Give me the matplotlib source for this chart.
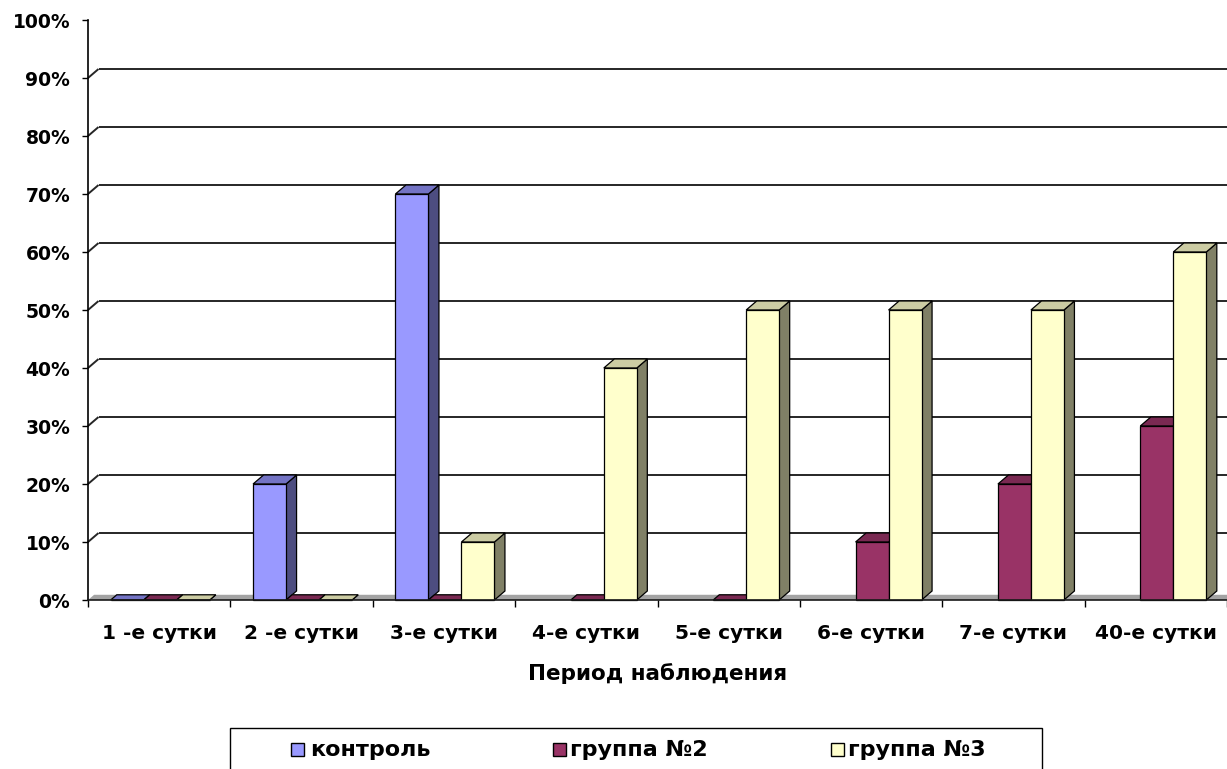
import numpy as np
import matplotlib
matplotlib.use("Agg")
import matplotlib.pyplot as plt
from matplotlib.patches import Polygon, Rectangle
from matplotlib.ticker import FixedLocator, FixedFormatter, NullFormatter

# ---- data -------------------------------------------------------------
categories = ["1 -е сутки", "2 -е сутки", "3-е сутки", "4-е сутки",
              "5-е сутки", "6-е сутки", "7-е сутки", "40-е сутки"]
control = [0, 20, 70, np.nan, np.nan, np.nan, np.nan, np.nan]
group2 = [0, 0, 0, 0, 0, 10, 20, 30]
group3 = [0, 0, 10, 40, 50, 50, 50, 60]
series_names = ["контроль", "группа №2", "группа №3"]
yticks = list(range(0, 101, 10))
ytick_labels = [f"{v}%" for v in yticks]
x_title = "Период наблюдения"

# face colours: (front, top, side)
palette = [
    ("#9999ff", "#7373c4", "#4d4d80"),
    ("#993366", "#7a2952", "#4d1a33"),
    ("#ffffcc", "#ccccA3", "#808066"),
]

# ---- figure / axes geometry (pixels) ---------------------------------
W, H, DPI = 1227, 769, 100
AX_L, AX_R, AX_T, AX_B = 88, 1227, 20, 600
DEPTH_PX = (10.5, 9.0)       # oblique depth of the 3-D box
FLOOR_SCALE = 0.58           # the floor is seen flatter than the box tops
BAR_PX = 33.0                # front width of one column

plt.rcParams["font.family"] = ["DejaVu Sans"]
plt.rcParams["font.weight"] = "bold"

fig = plt.figure(figsize=(W / DPI, H / DPI), dpi=DPI)
ax = fig.add_axes([AX_L / W, (H - AX_B) / H, (AX_R - AX_L) / W, (AX_B - AX_T) / H])
n = len(categories)
ax.set_xlim(0, n)
ax.set_ylim(0, 100)

px_x = (AX_R - AX_L) / n
px_y = (AX_B - AX_T) / 100.0
DX = DEPTH_PX[0] / px_x
DY = DEPTH_PX[1] / px_y
bw = BAR_PX / px_x

grid_kw = dict(color="#262626", lw=1.4, solid_capstyle="butt", clip_on=False, zorder=1)

# floor of the 3-D plot area
fdx, fdy = DX * FLOOR_SCALE, DY * FLOOR_SCALE
ax.add_patch(Polygon([(0, 0), (n, 0), (n + fdx, fdy), (fdx, fdy)], closed=True,
                     facecolor="#a3a3a3", edgecolor="none", zorder=0.5, clip_on=False))

# back-wall gridlines with the side-wall diagonals
for v in yticks[1:-1]:
    ax.plot([0, DX], [v, v + DY], **grid_kw)
    ax.plot([DX, n + DX], [v + DY, v + DY], **grid_kw)


def draw_box(x0, v, colors, z):
    front, top, side = colors
    x1 = x0 + bw
    dx, dy = (DX, DY) if v > 0 else (fdx, fdy)
    edge = dict(edgecolor="black", lw=0.9, joinstyle="miter", clip_on=False)
    ax.add_patch(Polygon([(x1, 0), (x1 + dx, dy), (x1 + dx, v + dy), (x1, v)],
                         closed=True, facecolor=side, zorder=z, **edge))
    ax.add_patch(Polygon([(x0, v), (x1, v), (x1 + dx, v + dy), (x0 + dx, v + dy)],
                         closed=True, facecolor=top, zorder=z + 0.01, **edge))
    ax.add_patch(Polygon([(x0, 0), (x1, 0), (x1, v), (x0, v)],
                         closed=True, facecolor=front, zorder=z + 0.02, **edge))


all_series = [control, group2, group3]
z = 2
for i in range(n):
    center = i + 0.5
    for j, vals in enumerate(all_series):
        v = vals[i]
        if np.isnan(v):
            continue
        x0 = center + (j - 1.5) * bw + 1.0 / px_x
        draw_box(x0, v, palette[j], z)
        z += 0.1

# axes lines and ticks
for s in ("top", "right"):
    ax.spines[s].set_visible(False)
ax.spines["left"].set_color("black")
ax.spines["left"].set_linewidth(1.2)
ax.spines["bottom"].set_color("#1a1a1a")
ax.spines["bottom"].set_linewidth(1.2)
ax.spines["bottom"].set_zorder(10)

ax.yaxis.set_major_locator(FixedLocator(yticks))
ax.yaxis.set_major_formatter(FixedFormatter(ytick_labels))
ax.tick_params(axis="y", which="major", length=4.3, width=1.0, pad=8.5,
               labelsize=13.5, color="black")

ax.xaxis.set_major_locator(FixedLocator(list(range(n + 1))))
ax.xaxis.set_major_formatter(NullFormatter())
ax.xaxis.set_minor_locator(FixedLocator([i + 0.5 for i in range(n)]))
ax.xaxis.set_minor_formatter(FixedFormatter(categories))
ax.tick_params(axis="x", which="major", length=5, width=1.0, color="black")
ax.tick_params(axis="x", which="minor", length=0, pad=17, labelsize=14.5)
for lab in ax.get_xticklabels(minor=True) + ax.get_yticklabels():
    lab.set_fontweight("bold")

ax.set_xlabel(x_title, fontsize=15.5, fontweight="bold", va="center")
ax.xaxis.set_label_coords(0.5, -(674 - AX_B) / (AX_B - AX_T))

# legend box at the bottom
def fx(px):
    return px / W


def fy(py):
    return (H - py) / H


fig.add_artist(Rectangle((fx(230), fy(776)), fx(1042) - fx(230), fy(728) - fy(776),
                         transform=fig.transFigure, fill=False, edgecolor="black",
                         lw=1.0, clip_on=False))
legend_x = [(291, 310), (553, 570), (831, 848)]
for (sq_x, tx), name, cols in zip(legend_x, series_names, palette):
    fig.add_artist(Rectangle((fx(sq_x), fy(756)), fx(sq_x + 13) - fx(sq_x), fy(743) - fy(756),
                             transform=fig.transFigure, facecolor=cols[0],
                             edgecolor="black", lw=1.0))
    fig.text(fx(tx), fy(750), name, fontsize=16, fontweight="bold",
             ha="left", va="center")

fig.savefig("out.png", dpi=DPI, facecolor="white")
